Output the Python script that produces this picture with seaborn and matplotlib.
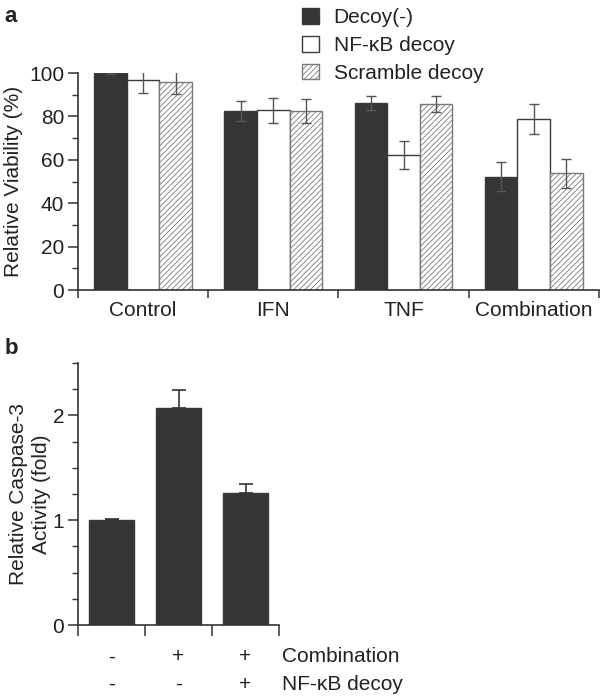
import numpy as np
import pandas as pd
import matplotlib
matplotlib.use("Agg")
import matplotlib.pyplot as plt
from matplotlib.patches import Patch
from matplotlib.ticker import MultipleLocator
import seaborn as sns

# ---------------- data ----------------
categories_a = ["Control", "IFN", "TNF", "Combination"]
groups_a = ["Decoy(-)", "NF-\u03baB decoy", "Scramble decoy"]
decoy_minus = [100.0, 82.3, 86.2, 52.3]
decoy_minus_err = [0.3, 4.6, 3.4, 6.6]
nfkb_decoy = [96.9, 82.8, 62.2, 78.8]
nfkb_decoy_err = [6.3, 5.8, 6.6, 7.0]
scramble_decoy = [95.8, 82.3, 85.7, 53.7]
scramble_decoy_err = [5.6, 5.5, 3.8, 6.8]

conditions_b = ["c1", "c2", "c3"]
caspase = [1.0, 2.07, 1.26]
caspase_err = [0.012, 0.17, 0.087]
row_combination = ["-", "+", "+"]
row_nfkb = ["-", "-", "+"]
row_titles = ["Combination", "NF-\u03baB decoy"]

# ---------------- style ----------------
sns.set_style("ticks")
plt.rcParams["font.family"] = ["Liberation Sans", "DejaVu Sans"]
TXT = "#222222"
DARK = "#363636"
EDGE = "#3a3a3a"
plt.rcParams.update({
    "text.color": TXT, "axes.labelcolor": TXT,
    "xtick.color": "#333333", "ytick.color": "#333333",
    "xtick.labelcolor": TXT, "ytick.labelcolor": TXT,
    "axes.edgecolor": "#333333", "axes.linewidth": 1.2,
    "hatch.linewidth": 0.6,
})
FS = 15

fig = plt.figure(figsize=(6, 6.96), dpi=100)

# ---------------- panel a ----------------
axa = fig.add_axes([0.13, 0.5833, 0.868, 0.3118])
df_a = pd.DataFrame({
    "cat": categories_a * 3,
    "grp": sum([[g] * len(categories_a) for g in groups_a], []),
    "val": decoy_minus + nfkb_decoy + scramble_decoy,
})
errs_a = [decoy_minus_err, nfkb_decoy_err, scramble_decoy_err]
sns.barplot(data=df_a, x="cat", y="val", hue="grp", order=categories_a,
            hue_order=groups_a, width=0.75, gap=0, errorbar=None,
            legend=False, ax=axa, saturation=1,
            palette=[DARK, "white", "white"])
face = [DARK, "white", "white"]
edges = [EDGE, EDGE, "#7a7a7a"]
hatches = [None, None, "//////"]
n = len(categories_a)
for gi in range(3):
    for ci in range(n):
        p = axa.patches[gi * n + ci]
        p.set_facecolor(face[gi])
        p.set_edgecolor(edges[gi])
        p.set_linewidth(1.0)
        if hatches[gi]:
            p.set_hatch(hatches[gi])
        cx = p.get_x() + p.get_width() / 2
        axa.errorbar(cx, p.get_height(), yerr=errs_a[gi][ci], color="#555555",
                     elinewidth=1.0, capsize=3.5, capthick=1.0, zorder=5)

axa.set_xlim(-0.5, 3.5)
axa.set_ylim(0, 100)
axa.yaxis.set_major_locator(MultipleLocator(20))
axa.yaxis.set_minor_locator(MultipleLocator(10))
axa.set_xticks([-0.5, 0.5, 1.5, 2.5, 3.5])
axa.set_xticklabels([])
axa.set_xticks(range(n), minor=True)
axa.set_xticklabels(categories_a, minor=True, fontsize=FS)
axa.tick_params(axis="x", which="minor", length=0, pad=8)
axa.tick_params(axis="x", which="major", length=6, width=1.1, direction="out")
axa.tick_params(axis="y", which="major", length=7, width=1.1, labelsize=FS, pad=3)
axa.tick_params(axis="y", which="minor", length=4, width=1.0)
axa.set_xlabel("")
axa.set_ylabel("Relative Viability (%)", fontsize=FS, labelpad=4)
sns.despine(ax=axa)

handles = [Patch(facecolor=face[i], edgecolor=edges[i], hatch=hatches[i], linewidth=1.0)
           for i in range(3)]
fig.legend(handles, groups_a, loc="upper left", bbox_to_anchor=(0.49, 1.001),
           frameon=False, fontsize=FS, handlelength=0.8, handleheight=0.8,
           handletextpad=0.7, labelspacing=0.42, borderaxespad=0)

fig.text(0.008, 0.977, "a", fontsize=16, fontweight="bold", va="center", ha="left")

# ---------------- panel b ----------------
axb = fig.add_axes([0.13, 0.102, 0.335, 0.3764])
df_b = pd.DataFrame({"cond": conditions_b, "val": caspase})
sns.barplot(data=df_b, x="cond", y="val", order=conditions_b, color=DARK,
            saturation=1, width=0.68, errorbar=None, ax=axb)
for i, p in enumerate(axb.patches):
    p.set_edgecolor(EDGE)
    p.set_linewidth(1.0)
    cx = p.get_x() + p.get_width() / 2
    axb.errorbar(cx, p.get_height(), yerr=[[0], [caspase_err[i]]], color="#333333",
                 elinewidth=1.2, capsize=5, capthick=1.2, zorder=5)
axb.set_xlim(-0.5, 2.5)
axb.set_ylim(0, 2.5)
axb.yaxis.set_major_locator(MultipleLocator(1))
axb.yaxis.set_minor_locator(MultipleLocator(0.25))
axb.set_xticks([-0.5, 0.5, 1.5, 2.5])
axb.set_xticklabels([])
axb.tick_params(axis="x", which="major", length=8, width=1.1, direction="out")
axb.tick_params(axis="y", which="major", length=7, width=1.1, labelsize=FS, pad=3)
axb.tick_params(axis="y", which="minor", length=4, width=1.0)
axb.set_xlabel("")
axb.set_ylabel("Relative Caspase-3\nActivity (fold)", fontsize=FS, labelpad=1,
               linespacing=1.25)
sns.despine(ax=axb)

trans = matplotlib.transforms.blended_transform_factory(axb.transData, fig.transFigure)
for i in range(len(conditions_b)):
    axb.text(i, 1 - 657 / 696, row_combination[i], transform=trans, ha="center",
             va="center", fontsize=FS)
    axb.text(i, 1 - 684 / 696, row_nfkb[i], transform=trans, ha="center",
             va="center", fontsize=FS)
axb.text(2.55, 1 - 657 / 696, row_titles[0], transform=trans, ha="left",
         va="center", fontsize=FS)
axb.text(2.55, 1 - 684 / 696, row_titles[1], transform=trans, ha="left",
         va="center", fontsize=FS)

fig.text(0.008, 1 - 349 / 696, "b", fontsize=16, fontweight="bold", va="center", ha="left")

fig.savefig("out.png", dpi=100)
